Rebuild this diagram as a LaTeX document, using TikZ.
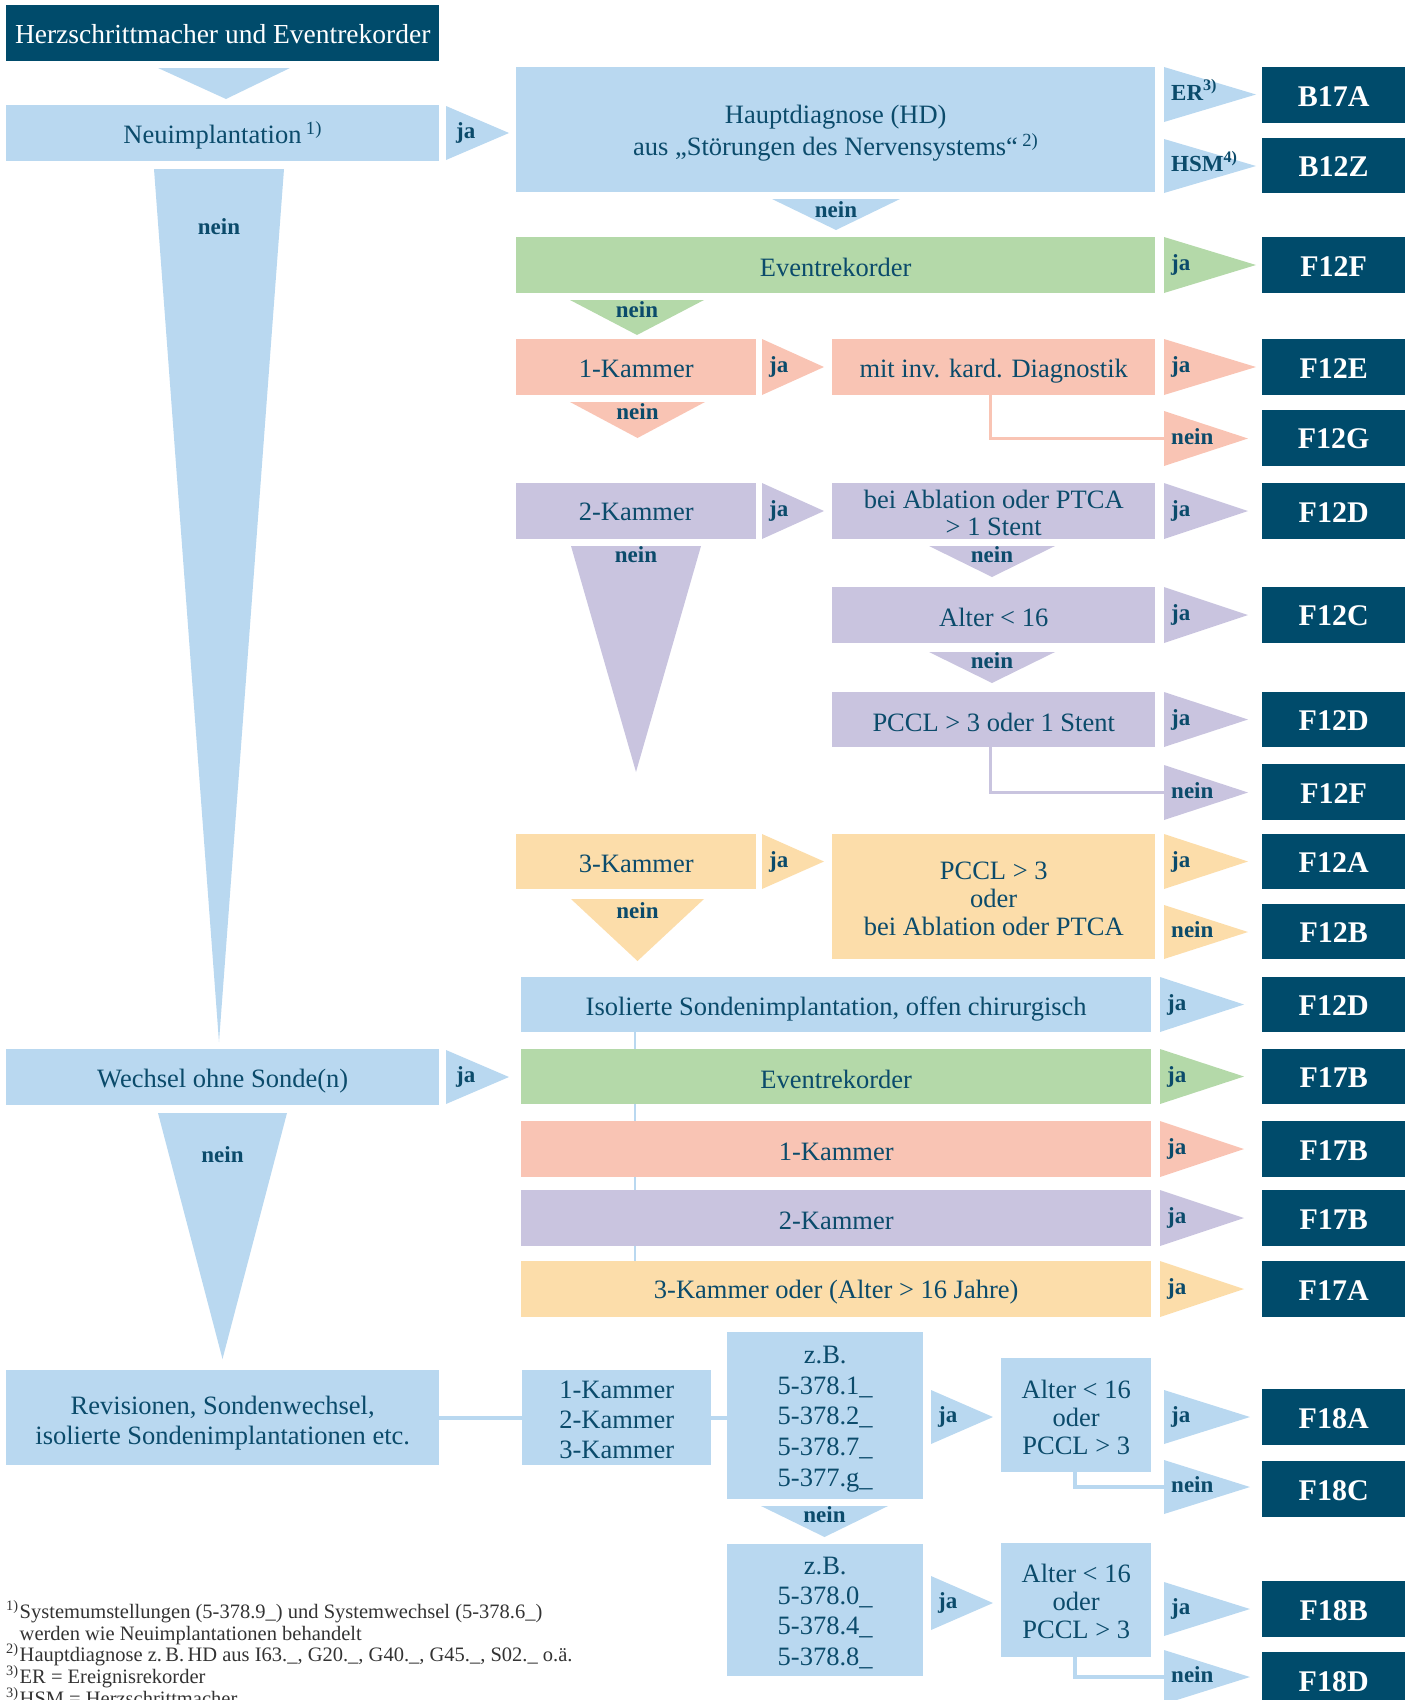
\documentclass[tikz,border=0pt]{standalone}
\usepackage{fontspec}
\setmainfont{Liberation Serif}
\usetikzlibrary{backgrounds}

\definecolor{cnavy}{HTML}{004B6B}
\definecolor{cblue}{HTML}{B9D8F0}
\definecolor{cgreen}{HTML}{B4D9A9}
\definecolor{csalmon}{HTML}{F9C4B4}
\definecolor{clav}{HTML}{C9C4DF}
\definecolor{cpeach}{HTML}{FCDDAA}
\definecolor{cink}{HTML}{0B4B6B}
\definecolor{cfoot}{HTML}{333333}

% box: [text drop], name, style, x1, y1, x2, y2, text
\newcommand\dgbox[8][2.5]{%
  \node[#3, minimum width={#6pt-#4pt}, minimum height={#7pt-#5pt}] (#2) at (#4,#5) {};
  \node[#3, fill=none, anchor=center, inner sep=0pt] (#2-t) at ([yshift=-#1pt]#2.center) {#8};}
% right-pointing arrow: colour, label name, x-left, y-top, y-bottom, x-tip, label
\newcommand\rtri[8][7]{%
  \fill[#2] (#4,#5) -- (#4,#6) -- (#7,{(#5+#6)/2}) -- cycle;
  \node[lbl, anchor=west] (#3) at ({#4+#1},{(#5+#6)/2}) {#8};}
% down-pointing arrow with "nein": colour, label name, x-left, x-right, y-top, y-tip, label y
\newcommand\dtri[7]{%
  \fill[#1] (#3,#5) -- (#4,#5) -- ({(#3+#4)/2},#6) -- cycle;
  \node[lbl] (#2) at ({(#3+#4)/2},#7) {nein};}

\begin{document}
\begin{tikzpicture}[x=1pt,y=-1pt,
  fbx/.style={rectangle, inner sep=0pt, anchor=north west, text=cink, align=center,
              font=\fontsize{26.5}{31}\selectfont},
  drg/.style={fbx, fill=cnavy, text=white, font=\bfseries\fontsize{30}{36}\selectfont},
  lbl/.style={inner sep=0pt, text=cink, text height=16pt, text depth=5pt,
              font=\bfseries\fontsize{23}{27}\selectfont},
  fn/.style={inner sep=0pt, anchor=base west, text=cfoot, font=\fontsize{20.5}{22}\selectfont},
  link/.style={line width=#1},
  link/.default=3pt]
\useasboundingbox (0,0) rectangle (1410,1700);
\clip (0,0) rectangle (1410,1700);

% ---------- Neuimplantation ----------
\dgbox[1]{title}{fbx, fill=cnavy, text=white, font=\fontsize{27.5}{31}\selectfont}{6}{5}{439}{61}{Herzschrittmacher und Eventrekorder}
\fill[cblue] (158,68) -- (290,68) -- (226,99) -- cycle;
\dgbox{neu}{fbx, fill=cblue}{6}{105}{439}{161}{Neuimplantation\,\textsuperscript{1)}}
\rtri[10]{cblue}{neuja}{446}{106}{160}{509}{ja}
\dtri{cblue}{neunein}{154}{284}{169}{1042}{229}

\dgbox[3.5]{hd}{fbx, fill=cblue, font=\fontsize{26.5}{32}\selectfont}{516}{67}{1155}{192}{Hauptdiagnose (HD)\\aus „Störungen des Nervensystems“\,\textsuperscript{2)}}
\rtri{cblue}{er}{1164}{67}{122}{1256}{ER\textsuperscript{3)}}
\dgbox[1]{b17a}{drg}{1262}{67}{1405}{123}{B17A}
\rtri{cblue}{hsm}{1164}{139}{193}{1256}{HSM\textsuperscript{4)}}
\dgbox[1]{b12z}{drg}{1262}{138}{1405}{193}{B12Z}
\dtri{cblue}{hdnein}{772}{900}{199}{230}{212}

\dgbox{evt}{fbx, fill=cgreen}{516}{237}{1155}{293}{Eventrekorder}
\rtri{cgreen}{evtja}{1164}{237}{293}{1256}{ja}
\dgbox[1]{f12f}{drg}{1262}{237}{1405}{293}{F12F}
\dtri{cgreen}{evtnein}{570}{704}{300}{335}{312}

% 1-Kammer
\dgbox[1.5]{k1}{fbx, fill=csalmon}{516}{339}{756}{395}{1-Kammer}
\rtri{csalmon}{k1ja}{762}{339}{395}{824}{ja}
\dgbox[4]{inv}{fbx, fill=csalmon}{832}{339}{1155}{395}{mit inv. kard. Diagnostik}
\rtri{csalmon}{invja}{1164}{339}{395}{1256}{ja}
\dgbox[1]{f12e}{drg}{1262}{339}{1405}{395}{F12E}
\dtri{csalmon}{k1nein}{570}{705}{402}{438}{414}
\rtri{csalmon}{invnein}{1164}{411}{466}{1248}{nein}
\dgbox[1]{f12g}{drg}{1262}{410}{1405}{466}{F12G}

% 2-Kammer
\dgbox[1]{k2}{fbx, fill=clav}{516}{483}{756}{539}{2-Kammer}
\rtri{clav}{k2ja}{762}{483}{539}{824}{ja}
\dgbox[1.5]{abl}{fbx, fill=clav, font=\fontsize{26.5}{27}\selectfont}{832}{483}{1155}{539}{bei Ablation oder PTCA\\> 1 Stent}
\rtri{clav}{ablja}{1164}{483}{539}{1248}{ja}
\dgbox[1]{f12d}{drg}{1262}{483}{1405}{539}{F12D}
\dtri{clav}{k2nein}{571}{701}{546}{772}{557}
\dtri{clav}{ablnein}{929}{1055}{546}{577}{557}
\dgbox{alt}{fbx, fill=clav}{832}{587}{1155}{643}{Alter < 16}
\rtri{clav}{altja}{1164}{587}{643}{1248}{ja}
\dgbox[1]{f12c}{drg}{1262}{587}{1405}{643}{F12C}
\dtri{clav}{altnein}{929}{1055}{652}{683}{663}
\dgbox{pc}{fbx, fill=clav}{832}{692}{1155}{747}{PCCL > 3 oder 1 Stent}
\rtri{clav}{pcja}{1164}{692}{747}{1248}{ja}
\dgbox[1]{f12db}{drg}{1262}{692}{1405}{747}{F12D}
\rtri{clav}{pcnein}{1164}{765}{820}{1248}{nein}
\dgbox[1]{f12fb}{drg}{1262}{764}{1405}{820}{F12F}

% 3-Kammer
\dgbox{k3}{fbx, fill=cpeach}{516}{834}{756}{889}{3-Kammer}
\rtri{cpeach}{k3ja}{762}{834}{889}{824}{ja}
\dgbox{pc3}{fbx, fill=cpeach, font=\fontsize{26.5}{28}\selectfont}{832}{834}{1155}{959}{PCCL > 3\\oder\\bei Ablation oder PTCA}
\rtri{cpeach}{pc3ja}{1164}{834}{889}{1248}{ja}
\dgbox[1]{f12a}{drg}{1262}{834}{1405}{889}{F12A}
\rtri{cpeach}{pc3nein}{1164}{905}{959}{1248}{nein}
\dgbox[1]{f12b}{drg}{1262}{904}{1405}{959}{F12B}
\dtri{cpeach}{k3nein}{571}{704}{899}{961}{913}

% ---------- Wechsel ----------
\dgbox[4.5]{iso}{fbx, fill=cblue}{521}{977}{1151}{1032}{Isolierte Sondenimplantation, offen chirurgisch}
\rtri{cblue}{isoja}{1160}{977}{1032}{1244}{ja}
\dgbox[1]{f12dc}{drg}{1262}{977}{1405}{1032}{F12D}
\dgbox[4]{wech}{fbx, fill=cblue}{6}{1049}{439}{1105}{Wechsel ohne Sonde(n)}
\rtri[10]{cblue}{wechja}{446}{1050}{1104}{509}{ja}
\dtri{cblue}{wechnein}{158}{287}{1113}{1359}{1157}
\dgbox[3]{wevt}{fbx, fill=cgreen}{521}{1049}{1151}{1104}{Eventrekorder}
\rtri{cgreen}{wevtja}{1160}{1049}{1104}{1244}{ja}
\dgbox[1]{f17b}{drg}{1262}{1049}{1405}{1104}{F17B}
\dgbox[3]{wk1}{fbx, fill=csalmon}{521}{1121}{1151}{1177}{1-Kammer}
\rtri{csalmon}{wk1ja}{1160}{1121}{1177}{1244}{ja}
\dgbox[1]{f17bb}{drg}{1262}{1121}{1405}{1177}{F17B}
\dgbox{wk2}{fbx, fill=clav}{521}{1190}{1151}{1246}{2-Kammer}
\rtri{clav}{wk2ja}{1160}{1190}{1246}{1244}{ja}
\dgbox[1]{f17bc}{drg}{1262}{1190}{1405}{1246}{F17B}
\dgbox[3]{wk3}{fbx, fill=cpeach}{521}{1261}{1151}{1317}{3-Kammer oder (Alter > 16 Jahre)}
\rtri{cpeach}{wk3ja}{1160}{1261}{1317}{1244}{ja}
\dgbox[1]{f17a}{drg}{1262}{1261}{1405}{1317}{F17A}

% ---------- Revisionen ----------
\dgbox[5]{rev}{fbx, fill=cblue, font=\fontsize{26.5}{30}\selectfont}{6}{1370}{439}{1465}{Revisionen, Sondenwechsel,\\isolierte Sondenimplantationen etc.}
\dgbox[2]{kam}{fbx, fill=cblue, font=\fontsize{26.5}{30.3}\selectfont}{522}{1370}{711}{1465}{1-Kammer\\2-Kammer\\3-Kammer}
\dgbox[3.3]{zb1}{fbx, fill=cblue, font=\fontsize{26.5}{30.6}\selectfont}{727}{1332}{923}{1499}{z.B.\\5-378.1\_\\5-378.2\_\\5-378.7\_\\5-377.g\_}
\rtri{cblue}{zb1ja}{931}{1390}{1444}{993}{ja}
\dgbox[2]{a1}{fbx, fill=cblue, font=\fontsize{26.5}{28}\selectfont}{1001}{1358}{1151}{1472}{Alter < 16\\oder\\PCCL > 3}
\rtri{cblue}{a1ja}{1164}{1390}{1444}{1250}{ja}
\dgbox[1]{f18a}{drg}{1262}{1389}{1405}{1445}{F18A}
\rtri{cblue}{a1nein}{1164}{1460}{1514}{1250}{nein}
\dgbox[1]{f18c}{drg}{1262}{1461}{1405}{1517}{F18C}
\dtri{cblue}{zbnein}{761}{888}{1506}{1537}{1517}
\dgbox[2.5]{zb2}{fbx, fill=cblue, font=\fontsize{26.5}{30.4}\selectfont}{727}{1544}{923}{1676}{z.B.\\5-378.0\_\\5-378.4\_\\5-378.8\_}
\rtri{cblue}{zb2ja}{931}{1576}{1630}{993}{ja}
\dgbox[1.5]{a2}{fbx, fill=cblue, font=\fontsize{26.5}{28}\selectfont}{1001}{1543}{1151}{1657}{Alter < 16\\oder\\PCCL > 3}
\rtri{cblue}{a2ja}{1164}{1582}{1636}{1250}{ja}
\dgbox[1]{f18b}{drg}{1262}{1581}{1405}{1637}{F18B}
\rtri{cblue}{a2nein}{1164}{1650}{1704}{1250}{nein}
\dgbox[1]{f18d}{drg}{1262}{1652}{1405}{1708}{F18D}

% ---------- footnotes ----------
\node[fn] (fn1) at (6,1618) {\makebox[13.5pt][l]{\textsuperscript{1)}}Systemumstellungen (5-378.9\_) und Systemwechsel (5-378.6\_)};
\node[fn] (fn1b) at (19.5,1640) {werden wie Neuimplantationen behandelt};
\node[fn] (fn2) at (6,1661) {\makebox[13.5pt][l]{\textsuperscript{2)}}Hauptdiagnose z.\,B.\,HD aus I63.\_, G20.\_, G40.\_, G45.\_, S02.\_ o.ä.};
\node[fn] (fn3) at (6,1683) {\makebox[13.5pt][l]{\textsuperscript{3)}}ER = Ereignisrekorder};
\node[fn] (fn4) at (6,1705) {\makebox[13.5pt][l]{\textsuperscript{3)}}HSM = Herzschrittmacher};

% ---------- connecting lines ----------
\coordinate (invbend) at (990,438);
\coordinate (pcbend) at (990,792);
\coordinate (spine) at (635,1000);
\coordinate (a1bend) at (1075,1487);
\coordinate (a2bend) at (1075,1677);
\begin{pgfonlayer}{background}
  \draw[csalmon, link] (inv.south -| invbend) |- (invnein.west);
  \draw[clav, link] (pc.south -| pcbend) |- (pcnein.west);
  \draw[cblue, link=2.5pt] (iso.south -| spine) -- (wk3.north -| spine);
  \draw[cblue, link=4pt] (rev.east) -- (kam.west);
  \draw[cblue, link=4pt] (kam.east) -- (kam.east -| zb1.west);
  \draw[cblue, link=3.5pt] (a1.south -| a1bend) |- (a1nein.west);
  \draw[cblue, link=3.5pt] (a2.south -| a2bend) |- (a2nein.west);
\end{pgfonlayer}
\end{tikzpicture}
\end{document}
